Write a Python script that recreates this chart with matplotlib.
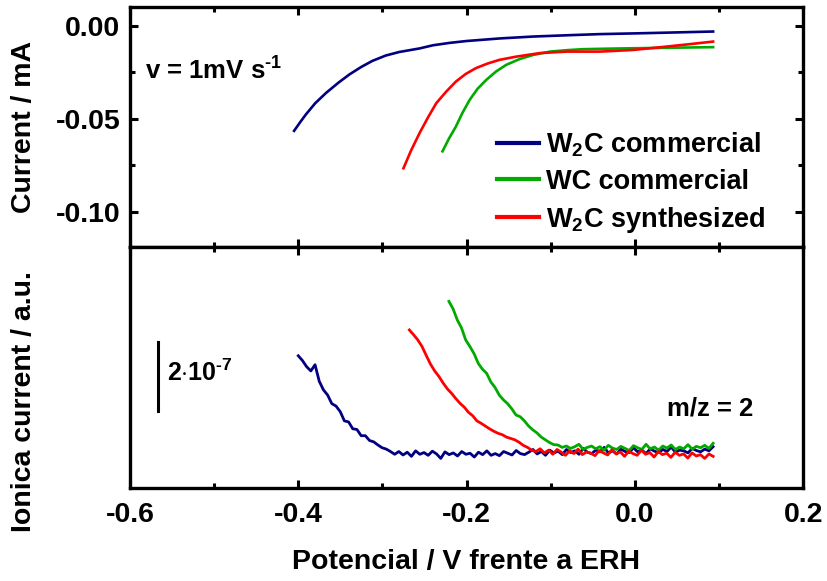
import numpy as np
import matplotlib
matplotlib.use("Agg")
import matplotlib.pyplot as plt
from matplotlib.ticker import MultipleLocator, NullLocator, FormatStrFormatter

plt.rcParams["font.family"] = ["Liberation Sans", "DejaVu Sans"]
plt.rcParams["font.weight"] = "bold"
plt.rcParams["mathtext.fontset"] = "custom"
plt.rcParams["mathtext.rm"] = "Liberation Sans:bold"
plt.rcParams["mathtext.bf"] = "Liberation Sans:bold"
plt.rcParams["mathtext.default"] = "bf"
plt.rcParams["axes.unicode_minus"] = False

# polarization curves (current in mA vs potential in V)
e_w2c_com = [-0.405, -0.398, -0.391, -0.380, -0.367, -0.352, -0.339, -0.325, -0.312,
             -0.296, -0.280, -0.256, -0.240, -0.220, -0.200, -0.160, -0.121, -0.080,
             -0.042, 0.000, 0.038, 0.093]
i_w2c_com = [-0.0566, -0.0521, -0.0478, -0.0418, -0.0362, -0.0306, -0.0262, -0.0222,
             -0.0190, -0.0161, -0.0142, -0.0123, -0.0106, -0.0093, -0.0083, -0.0069,
             -0.0059, -0.0052, -0.0046, -0.0042, -0.0038, -0.0032]

e_wc_com = [-0.2286, -0.2210, -0.2127, -0.2050, -0.1964, -0.1870, -0.1766, -0.1650,
            -0.1528, -0.1370, -0.1210, -0.1010, -0.0800, -0.0620, -0.0300, -0.0020,
            0.0450, 0.0930]
i_wc_com = [-0.0676, -0.0608, -0.0543, -0.0470, -0.0400, -0.0340, -0.0292, -0.0247,
            -0.0211, -0.0180, -0.0158, -0.0140, -0.0132, -0.0127, -0.0124, -0.0122,
            -0.0119, -0.0116]

e_w2c_syn = [-0.275, -0.266, -0.256, -0.246, -0.236, -0.224, -0.2127, -0.201, -0.189,
             -0.175, -0.1607, -0.141, -0.113, -0.0813, -0.0417, -0.002, 0.0377,
             0.065, 0.093]
i_w2c_syn = [-0.0767, -0.0672, -0.0579, -0.0495, -0.0417, -0.0354, -0.0301, -0.0260,
             -0.0229, -0.0204, -0.0184, -0.0167, -0.0148, -0.0140, -0.0140, -0.0131,
             -0.0113, -0.0100, -0.0086]

# m/z = 2 ion current, in units of 1e-7 (arbitrary offset)
ms_w2c_com = [3.84, 3.70, 3.52, 3.40, 3.58, 3.10, 2.85, 2.70, 2.45, 2.38,
              2.22, 1.95, 1.92, 1.72, 1.70, 1.52, 1.52, 1.38, 1.34, 1.25,
              1.17, 1.13, 1.06, 0.98, 1.06, 0.96, 1.04, 0.92, 1.08, 0.98,
              1.03, 0.95, 1.07, 0.99, 0.86, 1.05, 0.97, 1.02, 0.93, 1.06,
              0.98, 1.01, 0.90, 1.04, 0.97, 1.08, 0.95, 1.00, 0.94, 1.06,
              1.01, 0.96, 1.09, 1.00, 0.97, 1.04, 1.12, 0.99, 1.06, 0.95,
              1.10, 1.02, 1.07, 0.97, 1.12, 1.03, 1.08, 0.98, 1.15, 1.04,
              1.00, 1.10, 1.05, 1.18, 1.02, 1.08, 0.99, 1.13, 1.06, 1.03,
              1.17, 1.05, 1.10, 1.00, 1.14, 1.07, 1.03, 1.12, 1.06, 1.19,
              1.04, 1.10, 1.08, 1.02, 1.15, 1.09, 1.05, 1.13, 1.08, 1.20]
ms_wc_com = [5.42, 5.20, 4.88, 4.65, 4.30, 4.11, 3.90, 3.62, 3.45, 3.33,
             3.08, 2.92, 2.70, 2.56, 2.45, 2.30, 2.12, 2.07, 1.95, 1.80,
             1.69, 1.60, 1.48, 1.40, 1.32, 1.26, 1.25, 1.18, 1.22, 1.15,
             1.20, 1.27, 1.12, 1.18, 1.22, 1.14, 1.20, 1.10, 1.24, 1.16,
             1.12, 1.21, 1.15, 1.09, 1.23, 1.17, 1.12, 1.27, 1.14, 1.19,
             1.10, 1.22, 1.16, 1.25, 1.12, 1.19, 1.14, 1.26, 1.13, 1.21,
             1.17, 1.24, 1.15, 1.30]
ms_w2c_syn = [4.59, 4.45, 4.30, 4.11, 3.85, 3.60, 3.40, 3.24, 3.05, 2.88,
              2.75, 2.60, 2.46, 2.35, 2.20, 2.10, 1.95, 1.88, 1.80, 1.72,
              1.65, 1.59, 1.55, 1.48, 1.44, 1.40, 1.33, 1.24, 1.18, 1.10,
              1.06, 1.14, 1.02, 1.10, 0.98, 1.12, 1.04, 0.95, 1.08, 1.00,
              1.13, 0.97, 1.05, 1.01, 0.94, 1.09, 1.02, 0.96, 1.11, 0.99,
              1.05, 0.92, 1.07, 1.00, 0.95, 1.10, 0.98, 1.03, 0.90, 1.06,
              0.97, 1.01, 0.89, 1.04, 0.95, 0.99, 0.87, 1.02, 0.93, 0.97,
              0.86, 0.99, 0.92]

e_ms_w2c_com = np.linspace(-0.400, 0.093, len(ms_w2c_com))
e_ms_wc_com = np.linspace(-0.221, 0.093, len(ms_wc_com))
e_ms_w2c_syn = np.linspace(-0.268, 0.093, len(ms_w2c_syn))

labels = [r"W$_2$C commercial", "WC commercial", r"W$_2$C synthesized"]
colors = ["#000080", "#00aa00", "#ff0000"]

fig = plt.figure(figsize=(8.28, 5.81), dpi=100)
ax1 = fig.add_axes([0.157, 0.575, 0.813, 0.413])
ax2 = fig.add_axes([0.157, 0.160, 0.813, 0.415], sharex=ax1)

ax1.plot(e_w2c_com, i_w2c_com, color=colors[0], lw=1.9, label=labels[0])
ax1.plot(e_wc_com, i_wc_com, color=colors[1], lw=1.9, label=labels[1])
ax1.plot(e_w2c_syn, i_w2c_syn, color=colors[2], lw=1.9, label=labels[2])

ax2.plot(e_ms_w2c_com, ms_w2c_com, color=colors[0], lw=2.0)
ax2.plot(e_ms_wc_com, ms_wc_com, color=colors[1], lw=2.0)
ax2.plot(e_ms_w2c_syn, ms_w2c_syn, color=colors[2], lw=2.0)

ax1.set_xlim(-0.6, 0.2)
ax2.set_ylim(0, 7.0)

fs = 20.5
for ax in (ax1, ax2):
    for sp in ax.spines.values():
        sp.set_linewidth(2.4)
    ax.xaxis.set_major_locator(MultipleLocator(0.2))
    ax.xaxis.set_minor_locator(MultipleLocator(0.1))
    ax.tick_params(which="both", direction="in", top=True, bottom=True,
                   width=2.2, labelsize=fs, pad=10)
    ax.tick_params(which="major", length=6)
    ax.tick_params(which="minor", length=3.5)

ax1.tick_params(axis="x", labelbottom=False)
ax1.tick_params(axis="y", which="both", right=True, pad=7)
ax1.yaxis.set_major_locator(MultipleLocator(0.05))
ax1.yaxis.set_minor_locator(MultipleLocator(0.025))
ax1.yaxis.set_major_formatter(FormatStrFormatter("%.2f"))
ax1.set_ylim(-0.119, 0.010)

ax2.yaxis.set_major_locator(NullLocator())
ax2.yaxis.set_minor_locator(NullLocator())
ax2.xaxis.set_major_formatter(FormatStrFormatter("%.1f"))

ax1.text(0.022, 0.735, r"v = 1mV s$^{\text{-}1}$", transform=ax1.transAxes,
         fontsize=18.5, fontweight="bold", va="center")
leg = ax1.legend(loc="upper left", bbox_to_anchor=(0.545, 0.487), frameon=False,
                 fontsize=19.5, handlelength=1.55, handletextpad=0.25,
                 labelspacing=0.37, borderpad=0, borderaxespad=0)
for h in leg.get_lines():
    h.set_linewidth(3.0)

# scale bar for the ion current
ax2.plot([-0.5667, -0.5667], [2.25, 4.25], color="k", lw=2.2)
ax2.text(-0.556, 3.35, r"2$\cdot$10$^{\text{-}7}$", fontsize=18, fontweight="bold",
         va="center")
ax2.text(0.038, 2.32, "m/z = 2", fontsize=18.5, fontweight="bold", va="center")

fig.text(0.029, 0.781, "Current / mA", rotation=90, fontsize=fs,
         fontweight="bold", ha="center", va="center")
fig.text(0.029, 0.308, "Ionica current / a.u.", rotation=90, fontsize=fs,
         fontweight="bold", ha="center", va="center")
fig.text(0.563, 0.033, "Potencial / V frente a ERH", fontsize=fs,
         fontweight="bold", ha="center", va="center")

fig.savefig("out.png", dpi=100)
